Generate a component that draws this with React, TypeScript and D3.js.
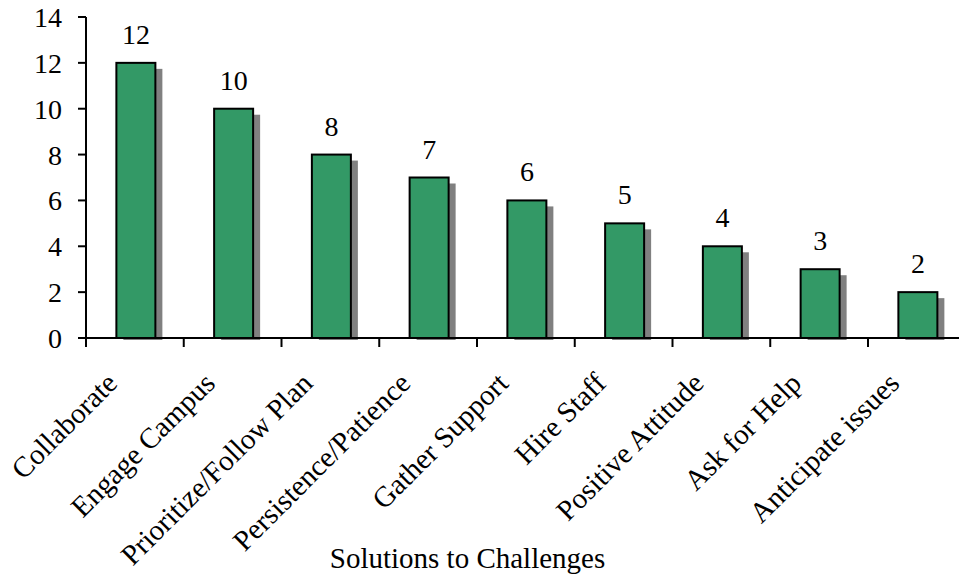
import React from "react";
import * as d3 from "d3";

// Responses per solution category
const categories = [
  "Collaborate",
  "Engage Campus",
  "Prioritize/Follow Plan",
  "Persistence/Patience",
  "Gather Support",
  "Hire Staff",
  "Positive Attitude",
  "Ask for Help",
  "Anticipate issues",
];
const counts = [12, 10, 8, 7, 6, 5, 4, 3, 2];
const yTicks = [0, 2, 4, 6, 8, 10, 12, 14];
const xTitle = "Solutions to Challenges";

const W = 959;
const H = 578;
const FONT = "'Liberation Serif', 'Times New Roman', serif";

export default function App() {
  const x0 = 86;
  const step = 97.75;
  const x = d3
    .scaleBand<string>()
    .domain(categories)
    .range([x0, x0 + step * categories.length])
    .paddingInner(0)
    .paddingOuter(0);
  const y = d3.scaleLinear().domain([0, 14]).range([338, 17]);
  const barW = 39;
  const shadow = 7;
  const fs = 28;

  return (
    <svg
      width={W}
      height={H}
      style={{ position: "absolute", left: 0, top: 0, background: "#fff" }}
      fontFamily={FONT}
    >
      {/* drop shadows */}
      {categories.map((c, i) => {
        const cx = (x(c) as number) + x.bandwidth() / 2 + 1;
        return (
          <rect
            key={"s" + c}
            x={cx - barW / 2 + shadow}
            y={y(counts[i]) + shadow - 1}
            width={barW}
            height={y(0) - y(counts[i]) - shadow + 3}
            fill="#808080"
          />
        );
      })}
      {/* bars */}
      {categories.map((c, i) => {
        const cx = (x(c) as number) + x.bandwidth() / 2 + 1;
        return (
          <rect
            key={"b" + c}
            x={cx - barW / 2}
            y={y(counts[i])}
            width={barW}
            height={y(0) - y(counts[i])}
            fill="#339966"
            stroke="#000"
            strokeWidth={2}
          />
        );
      })}
      {/* value labels */}
      {categories.map((c, i) => {
        const cx = (x(c) as number) + x.bandwidth() / 2 + 1;
        return (
          <text
            key={"v" + c}
            x={cx}
            y={y(counts[i]) - 19}
            textAnchor="middle"
            fontSize={fs}
          >
            {counts[i]}
          </text>
        );
      })}
      {/* y axis */}
      <line x1={x0} x2={x0} y1={y(14)} y2={y(0)} stroke="#000" strokeWidth={2} />
      {yTicks.map((t) => (
        <g key={"yt" + t}>
          <line x1={x0 - 8} x2={x0} y1={y(t)} y2={y(t)} stroke="#000" strokeWidth={2} />
          <text x={62} y={y(t) + 10} textAnchor="end" fontSize={fs}>
            {t}
          </text>
        </g>
      ))}
      {/* x axis */}
      <line x1={x0 - 8} x2={W} y1={y(0)} y2={y(0)} stroke="#000" strokeWidth={2} />
      {categories.map((c) => (
        <line
          key={"xt" + c}
          x1={x(c) as number}
          x2={x(c) as number}
          y1={y(0)}
          y2={y(0) + 9}
          stroke="#000"
          strokeWidth={2}
        />
      ))}
      {categories.map((c) => {
        const cx = (x(c) as number) + x.bandwidth() / 2;
        return (
          <text
            key={"xl" + c}
            transform={`translate(${cx - 16},${385}) rotate(-45)`}
            textAnchor="end"
            fontSize={29}
          >
            {c}
          </text>
        );
      })}
      <text x={467.5} y={568} textAnchor="middle" fontSize={29}>
        {xTitle}
      </text>
    </svg>
  );
}
